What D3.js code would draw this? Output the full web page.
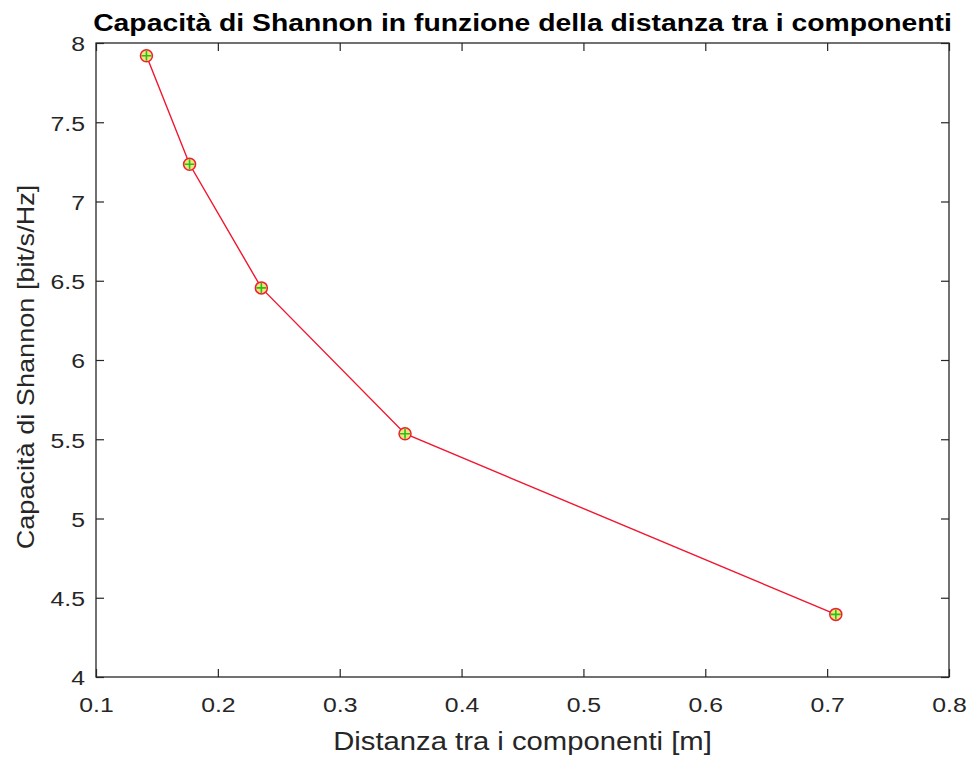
<!DOCTYPE html>
<html>
<head>
<meta charset="utf-8">
<script src="https://d3js.org/d3.v7.min.js"></script>
<style>
  body { margin: 0; background: #fff; }
  text { font-family: "Liberation Sans", Arial, sans-serif; }
</style>
</head>
<body>
<svg id="chart" width="970" height="758"></svg>
<script>
// distance between components [m]
var distanze = [0.1414, 0.1768, 0.2357, 0.3536, 0.7071];
// Shannon capacity [bit/s/Hz]
var capacita = [7.92, 7.235, 6.455, 5.535, 4.395];
var xTicks = [0.1, 0.2, 0.3, 0.4, 0.5, 0.6, 0.7, 0.8];
var yTicks = [4, 4.5, 5, 5.5, 6, 6.5, 7, 7.5, 8];

var margin = {left: 96, right: 21, top: 43, bottom: 81},
    width = 970 - margin.left - margin.right,
    height = 758 - margin.top - margin.bottom;

// the picture's text runs wider than Liberation Sans, stretch it a bit
var stretch = 1.18;

var svg = d3.select("#chart");
var g = svg.append("g")
    .attr("transform", "translate(" + margin.left + "," + margin.top + ")");

var x = d3.scaleLinear().domain([0.1, 0.8]).range([0, width]);
var y = d3.scaleLinear().domain([4, 8]).range([height, 0]);

var axisColor = "#262626";
var tickLen = 8;

var xAxis = g.append("g")
    .attr("transform", "translate(0," + height + ")")
    .call(d3.axisBottom(x).tickValues(xTicks).tickSizeInner(-tickLen).tickSizeOuter(0)
        .tickFormat(d3.format("")));
var yAxis = g.append("g")
    .call(d3.axisLeft(y).tickValues(yTicks).tickSizeInner(-tickLen).tickSizeOuter(0)
        .tickFormat(d3.format("")));
var xTop = g.append("g")
    .call(d3.axisTop(x).tickValues(xTicks).tickSizeInner(-tickLen).tickSizeOuter(0).tickFormat(""));
var yRight = g.append("g")
    .attr("transform", "translate(" + width + ",0)")
    .call(d3.axisRight(y).tickValues(yTicks).tickSizeInner(-tickLen).tickSizeOuter(0).tickFormat(""));

[xAxis, yAxis, xTop, yRight].forEach(function (a) {
    a.select(".domain").remove();
    a.selectAll("line").attr("stroke", axisColor).attr("stroke-width", 1.2);
    a.selectAll("text")
        .attr("fill", axisColor)
        .style("font-size", "21px")
        .style("font-family", "'Liberation Sans', Arial, sans-serif");
});

xAxis.selectAll("text")
    .attr("y", 0)
    .attr("dy", 0)
    .attr("transform", "translate(0,35) scale(" + stretch + ",1)");
yAxis.selectAll("text")
    .attr("x", 0)
    .attr("dy", "0.38em")
    .attr("transform", "translate(-11,0) scale(" + stretch + ",1)");

// box
g.append("rect")
    .attr("width", width)
    .attr("height", height)
    .attr("fill", "none")
    .attr("stroke", axisColor)
    .attr("stroke-width", 1.3);

var punti = distanze.map(function (d, i) { return [d, capacita[i]]; });

var line = d3.line()
    .x(function (d) { return x(d[0]); })
    .y(function (d) { return y(d[1]); });

g.append("path")
    .datum(punti)
    .attr("d", line)
    .attr("fill", "none")
    .attr("stroke", "#f0162f")
    .attr("stroke-width", 1.4);

var marker = g.selectAll(".marker")
    .data(punti)
    .enter()
    .append("g")
    .attr("class", "marker")
    .attr("transform", function (d) { return "translate(" + x(d[0]) + "," + y(d[1]) + ")"; });

marker.append("circle")
    .attr("r", 6)
    .attr("fill", "#f7e27a")
    .attr("stroke", "#ee2030")
    .attr("stroke-width", 1.5);
marker.append("path")
    .attr("d", "M-5,0H5M0,-5V5")
    .attr("stroke", "#1fc21f")
    .attr("stroke-width", 1.6);

// title
svg.append("text")
    .attr("transform", "translate(" + (margin.left + width / 2) + ",31) scale(" + stretch + ",1)")
    .attr("text-anchor", "middle")
    .style("font-size", "24px")
    .style("font-weight", "bold")
    .attr("fill", "#000")
    .text("Capacità di Shannon in funzione della distanza tra i componenti");

// x label
svg.append("text")
    .attr("transform", "translate(" + (margin.left + width / 2) + ",750) scale(1.17,1)")
    .attr("text-anchor", "middle")
    .style("font-size", "25px")
    .attr("fill", axisColor)
    .text("Distanza tra i componenti [m]");

// y label
svg.append("text")
    .attr("transform", "translate(34,367) rotate(-90) scale(1.13,1)")
    .attr("text-anchor", "middle")
    .style("font-size", "24px")
    .attr("fill", axisColor)
    .text("Capacità di Shannon [bit/s/Hz]");
</script>
</body>
</html>
